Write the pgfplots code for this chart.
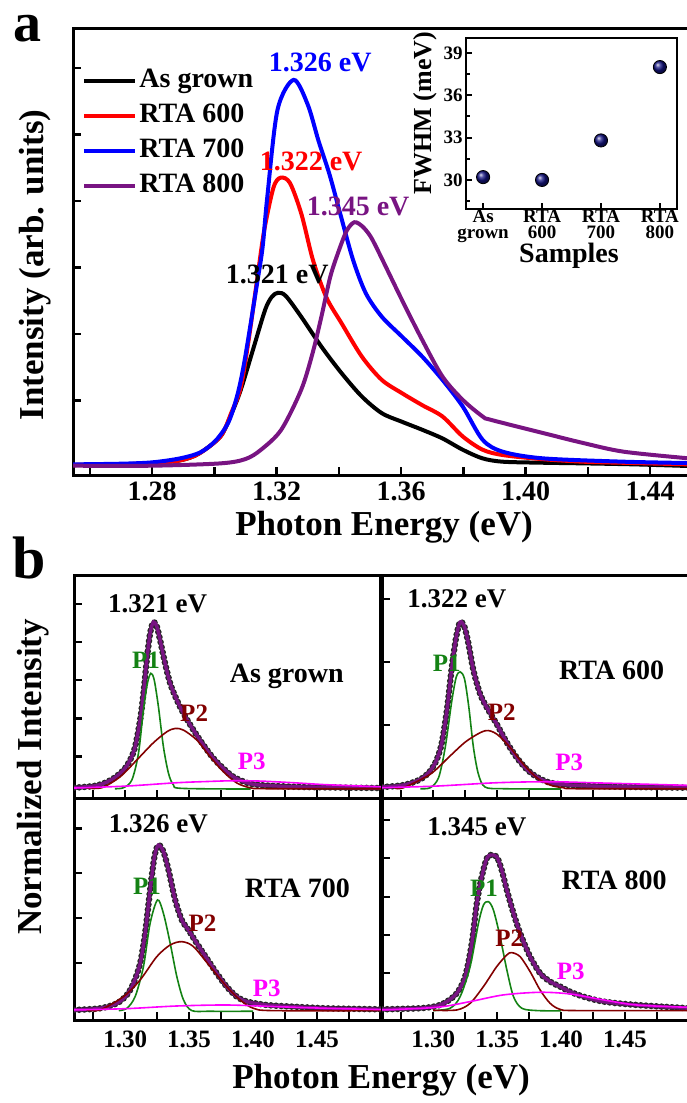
\documentclass[border=0pt]{standalone}
\usepackage{pgfplots}
\usepackage{pgfplotstable}
\pgfplotsset{compat=1.18}
\usepackage{fontspec}
\setmainfont{Liberation Serif}

\definecolor{cblue}{RGB}{0,0,255}
\definecolor{cred}{RGB}{255,0,0}
\definecolor{cpurple}{RGB}{120,20,130}
\definecolor{cgreen}{RGB}{20,130,20}
\definecolor{cdred}{RGB}{130,0,0}
\definecolor{cmag}{RGB}{255,0,255}
\definecolor{cnavy}{RGB}{20,20,130}
\newcommand{\fs}[1]{\fontsize{#1}{#1}\selectfont\bfseries}

% ---------- panel a ----------
\pgfplotstableread{
x y
1.2546 0.03
1.270 0.04
1.280 0.06
1.289 0.10
1.295 0.20
1.302 0.46
1.3055 0.80
1.3085 1.16
1.3124 1.76
1.3163 2.36
1.3185 2.56
1.3205 2.62
1.323 2.57
1.3279 2.26
1.3344 1.81
1.3409 1.41
1.3474 1.06
1.3538 0.81
1.3603 0.68
1.3668 0.56
1.3733 0.43
1.3798 0.26
1.3862 0.13
1.3927 0.08
1.405 0.065
1.4186 0.055
1.435 0.04
1.4525 0.015
}\asgrown
\pgfplotstableread{
x y
1.2546 0.03
1.270 0.04
1.280 0.06
1.289 0.10
1.295 0.20
1.302 0.46
1.3055 0.82
1.3085 1.20
1.311 1.90
1.3137 2.80
1.316 3.55
1.319 4.20
1.3213 4.35
1.3243 4.27
1.328 3.80
1.3317 3.11
1.336 2.55
1.3409 2.16
1.3474 1.66
1.3538 1.31
1.3603 1.11
1.3668 0.93
1.3733 0.76
1.3798 0.46
1.3862 0.26
1.3927 0.18
1.405 0.12
1.4186 0.08
1.435 0.06
1.4525 0.04
}\rtasix
\pgfplotstableread{
x y
1.2546 0.04
1.270 0.05
1.280 0.07
1.289 0.13
1.2955 0.22
1.3005 0.40
1.3046 0.68
1.3075 1.10
1.3098 1.62
1.3137 2.75
1.3155 3.30
1.317 4.05
1.3203 5.37
1.3255 5.82
1.330 5.45
1.3335 4.90
1.337 4.40
1.3405 3.80
1.3446 3.11
1.3487 2.61
1.3538 2.26
1.3603 1.96
1.3668 1.66
1.3733 1.31
1.3798 0.91
1.3862 0.41
1.3927 0.23
1.4057 0.13
1.4316 0.08
1.4525 0.06
}\rtaseven
\pgfplotstableread{
x y
1.2546 0.02
1.280 0.02
1.302 0.055
1.310 0.12
1.315 0.26
1.3215 0.56
1.3279 1.16
1.3315 1.70
1.3344 2.26
1.3372 2.85
1.3396 3.20
1.3425 3.55
1.345 3.68
1.3475 3.62
1.350 3.48
1.3525 3.26
1.3603 2.51
1.3668 1.91
1.3733 1.36
1.3798 1.01
1.3862 0.76
1.3888 0.71
1.4057 0.51
1.4186 0.36
1.4316 0.23
1.4525 0.13
}\rtaeight
\pgfplotstableread{
x y
0 30.2
1 30.0
2 32.8
3 38.0
}\fwhm

% ---------- panel b: As grown ----------
\pgfplotstableread{
x y
1.2600 0.002
1.2752 0.012
1.2831 0.028
1.2909 0.058
1.2987 0.108
1.3039 0.169
1.3078 0.249
1.3117 0.410
1.3143 0.570
1.3169 0.771
1.3195 0.932
1.3221 1.000
1.3247 0.974
1.3273 0.892
1.3312 0.751
1.3352 0.630
1.3404 0.530
1.3456 0.450
1.3534 0.349
1.3612 0.259
1.3690 0.179
1.3768 0.118
1.3846 0.068
1.3951 0.032
1.4055 0.018
1.4315 0.008
1.4576 0.004
1.5000 0.000
}\ulT
\pgfplotstableread{
x y
1.2920 -0.004
1.2987 0.002
1.3052 0.048
1.3104 0.209
1.3143 0.472
1.3174 0.631
1.3201 0.691
1.3227 0.651
1.3260 0.490
1.3299 0.249
1.3339 0.088
1.3378 0.018
1.3443 -0.002
1.3980 -0.006
}\ulA
\pgfplotstableread{
x y
1.2700 0.000
1.2818 0.002
1.2961 0.068
1.3091 0.169
1.3221 0.273
1.3326 0.339
1.3391 0.359
1.3456 0.349
1.3560 0.289
1.3664 0.189
1.3768 0.098
1.3872 0.031
1.3977 0.002
1.4107 -0.004
1.5000 -0.004
}\ulB
\pgfplotstableread{
x y
1.2600 0.000
1.3013 0.012
1.3404 0.032
1.3664 0.040
1.3846 0.044
1.4055 0.042
1.4315 0.032
1.4576 0.020
1.5000 0.008
}\ulC

% ---------- panel b: RTA 600 ----------
\pgfplotstableread{
x y
1.2600 0.006
1.2768 0.018
1.2899 0.052
1.2977 0.103
1.3029 0.173
1.3068 0.274
1.3107 0.466
1.3146 0.728
1.3180 0.909
1.3211 1.000
1.3245 0.970
1.3276 0.869
1.3315 0.708
1.3367 0.567
1.3419 0.486
1.3497 0.385
1.3576 0.274
1.3654 0.183
1.3732 0.113
1.3810 0.067
1.3914 0.032
1.4070 0.018
1.4331 0.010
1.4591 0.006
1.5000 0.002
}\urT
\pgfplotstableread{
x y
1.2900 -0.004
1.2977 0.002
1.3042 0.062
1.3094 0.244
1.3146 0.526
1.3180 0.667
1.3211 0.700
1.3245 0.657
1.3279 0.486
1.3315 0.244
1.3354 0.083
1.3406 0.006
1.3549 -0.004
1.4000 -0.006
}\urA
\pgfplotstableread{
x y
1.2700 0.000
1.2768 0.002
1.2977 0.083
1.3133 0.194
1.3263 0.284
1.3406 0.345
1.3497 0.325
1.3602 0.244
1.3706 0.143
1.3810 0.062
1.3914 0.018
1.4018 0.002
1.4122 -0.004
1.5000 -0.004
}\urB
\pgfplotstableread{
x y
1.2600 0.002
1.3029 0.012
1.3497 0.032
1.3914 0.038
1.4331 0.030
1.5000 0.016
}\urC

% ---------- panel b: RTA 700 ----------
\pgfplotstableread{
x y
1.2600 0.000
1.2804 0.010
1.2935 0.040
1.3013 0.091
1.3065 0.162
1.3117 0.283
1.3156 0.465
1.3195 0.727
1.3229 0.929
1.3260 1.000
1.3299 0.960
1.3339 0.848
1.3391 0.667
1.3443 0.545
1.3495 0.485
1.3560 0.404
1.3638 0.313
1.3716 0.222
1.3794 0.141
1.3872 0.081
1.3951 0.051
1.4107 0.030
1.4315 0.020
1.4576 0.010
1.5000 0.004
}\llT
\pgfplotstableread{
x y
1.2950 -0.004
1.3013 0.010
1.3078 0.081
1.3143 0.263
1.3195 0.525
1.3253 0.667
1.3299 0.586
1.3352 0.404
1.3404 0.202
1.3456 0.061
1.3521 -0.004
1.3664 -0.008
1.4000 -0.008
}\llA
\pgfplotstableread{
x y
1.2700 0.000
1.2804 0.000
1.2987 0.081
1.3117 0.182
1.3247 0.323
1.3352 0.394
1.3443 0.414
1.3534 0.384
1.3664 0.263
1.3794 0.141
1.3898 0.061
1.4003 0.010
1.4159 -0.004
1.5000 -0.004
}\llB
\pgfplotstableread{
x y
1.2600 0.000
1.3013 0.008
1.3404 0.024
1.3794 0.030
1.4185 0.020
1.4576 0.010
1.5000 0.002
}\llC

% ---------- panel b: RTA 800 ----------
\pgfplotstableread{
x y
1.2600 0.004
1.2898 0.011
1.3029 0.026
1.3107 0.054
1.3185 0.108
1.3250 0.215
1.3302 0.430
1.3341 0.688
1.3380 0.860
1.3419 0.978
1.3450 1.000
1.3497 0.989
1.3536 0.903
1.3576 0.774
1.3628 0.624
1.3680 0.495
1.3758 0.344
1.3836 0.237
1.3914 0.183
1.3992 0.151
1.4070 0.118
1.4174 0.086
1.4331 0.054
1.4591 0.032
1.5000 0.011
}\lrT
\pgfplotstableread{
x y
1.3000 -0.004
1.3133 0.011
1.3211 0.086
1.3289 0.280
1.3354 0.559
1.3393 0.677
1.3432 0.699
1.3471 0.645
1.3523 0.473
1.3576 0.258
1.3628 0.086
1.3693 0.011
1.3810 -0.004
1.4000 -0.006
}\lrA
\pgfplotstableread{
x y
1.3000 -0.002
1.3185 0.000
1.3289 0.043
1.3393 0.151
1.3497 0.280
1.3576 0.355
1.3614 0.370
1.3680 0.344
1.3758 0.247
1.3836 0.129
1.3914 0.043
1.3992 0.004
1.4122 -0.004
1.5000 -0.004
}\lrB
\pgfplotstableread{
x y
1.2600 0.000
1.3029 0.017
1.3289 0.054
1.3549 0.097
1.3836 0.114
1.4070 0.103
1.4331 0.065
1.4591 0.032
1.5000 0.017
}\lrC

\pgfplotsset{
  base/.style={scale only axis, anchor=north west, tick pos=left, tick align=inside,
    axis line style={line width=1.5pt}, tick style={line width=1.2pt, black},
    major tick length=4pt, minor tick length=4pt},
  pb/.style={base, width=153.5pt, xmin=1.26, xmax=1.50,
    xtick={1.30,1.35,1.40,1.45}, minor xtick={1.275,1.325,1.375,1.425,1.475},
    yticklabels={},
    xticklabel style={font=\fs{12.5}, yshift=-2pt,
      /pgf/number format/.cd, fixed, fixed zerofill, precision=2, assume math mode=true}},
  beads/.style={smooth, black!85, line width=3.3pt, line cap=round, dash pattern=on 0pt off 2.6pt},
  fit/.style={smooth, cpurple, line width=1.7pt},
  comp/.style={smooth, line width=0.8pt},
}

\begin{document}
\begin{tikzpicture}

% ===== panel a =====
\begin{axis}[base,
  at={(36.5pt,-14pt)}, width=308pt, height=223.5pt,
  xmin=1.2546, xmax=1.4525, ymin=-0.12, ymax=6.6,
  xtick={1.28,1.32,1.36,1.40,1.44}, minor xtick={1.26,1.30,1.34,1.38,1.42},
  ytick={1,2,3,4,5,6}, yticklabels={},
  xticklabel style={font=\fs{14},
    /pgf/number format/.cd, fixed, fixed zerofill, precision=2, assume math mode=true},
  legend style={at={(0.0146,0.918)}, anchor=north west, draw=none, fill=none,
    font=\fs{14}, inner sep=0pt, row sep=2pt,
    nodes={inner sep=1pt, text height=10pt, text depth=3.5pt}},
  legend cell align=left,
  legend image code/.code={\draw[#1, line width=2pt] (0pt,0pt) -- (25.5pt,0pt);},
]
\addplot[smooth, black, line width=2pt] table {\asgrown};
\addlegendentry{As grown}
\addplot[smooth, cred, line width=2pt] table {\rtasix};
\addlegendentry{RTA 600}
\addplot[smooth, cblue, line width=2pt] table {\rtaseven};
\addlegendentry{RTA 700}
\addplot[smooth, cpurple, line width=2pt] table {\rtaeight};
\addlegendentry{RTA 800}
\node[font=\fs{14}, text=cblue] at (axis cs:1.334,6.08) {1.326 eV};
\node[font=\fs{14}, text=cred] at (axis cs:1.3311,4.60) {1.322 eV};
\node[font=\fs{14}, text=cpurple] at (axis cs:1.3462,3.91) {1.345 eV};
\node[font=\fs{14}, text=black] at (axis cs:1.3202,2.89) {1.321 eV};
\end{axis}

% inset
\begin{axis}[base,
  at={(233pt,-19pt)}, width=105.5pt, height=85.5pt,
  axis line style={line width=1.2pt}, major tick length=3pt, minor tick length=2pt,
  tick style={line width=1pt, black},
  xmin=-0.29, xmax=3.29, ymin=27.94, ymax=40.06,
  xtick={0,1,2,3}, xticklabels={As\\grown, RTA\\600, RTA\\700, RTA\\800},
  ytick={30,33,36,39}, minor ytick={28.5,31.5,34.5,37.5},
  xticklabel style={font=\fontsize{9.5}{8}\selectfont\bfseries, align=center, inner sep=0.5pt},
  yticklabel style={font=\fs{9.5}, inner sep=1.5pt},
  /pgf/number format/assume math mode=true,
]
\addplot[only marks, mark=ball, mark size=3.3pt, mark options={ball color=cnavy}] table {\fwhm};
\end{axis}
\node[font=\fs{13}, rotate=90] at (212.5pt,-56.5pt) {FWHM (meV)};
\node[font=\fs{14}] at (284.5pt,-128pt) {Samples};

\node[font=\fs{17.5}] at (192pt,-263.5pt) {Photon Energy (eV)};
\node[font=\fs{17.5}, rotate=90] at (17.5pt,-132.5pt) {Intensity (arb. units)};
\node[font=\fs{28}, inner sep=0pt] at (13.5pt,-14.5pt) {a};

% ===== panel b =====
\begin{axis}[pb, at={(37pt,-287.5pt)}, height=111.5pt, ymin=-0.06, ymax=1.283,
  ytick={0.19,0.42,0.65,0.88,1.11}, xticklabels={}]
\addplot[beads] table {\ulT};
\addplot[fit] table {\ulT};
\addplot[comp, cgreen] table {\ulA};
\addplot[comp, cdred] table {\ulB};
\addplot[comp, cmag] table {\ulC};
\node[font=\fs{13.5}] at (axis cs:1.3254,1.11) {1.321 eV};
\node[font=\fs{14}] at (axis cs:1.4263,0.67) {As grown};
\node[font=\fs{12.5}, text=cgreen] at (axis cs:1.3162,0.77) {P1};
\node[font=\fs{12.5}, text=cdred] at (axis cs:1.3539,0.45) {P2};
\node[font=\fs{12.5}, text=cmag] at (axis cs:1.399,0.16) {P3};
\end{axis}

\begin{axis}[pb, at={(191pt,-287.5pt)}, height=111.5pt, ymin=-0.06, ymax=1.283,
  ytick={0.38,0.76,1.14}, xticklabels={}]
\addplot[beads] table {\urT};
\addplot[fit] table {\urT};
\addplot[comp, cgreen] table {\urA};
\addplot[comp, cdred] table {\urB};
\addplot[comp, cmag] table {\urC};
\node[font=\fs{13.5}] at (axis cs:1.3185,1.14) {1.322 eV};
\node[font=\fs{14}] at (axis cs:1.4396,0.71) {RTA 600};
\node[font=\fs{12.5}, text=cgreen] at (axis cs:1.3107,0.75) {P1};
\node[font=\fs{12.5}, text=cdred] at (axis cs:1.3537,0.455) {P2};
\node[font=\fs{12.5}, text=cmag] at (axis cs:1.4063,0.153) {P3};
\end{axis}

\begin{axis}[pb, at={(37pt,-399pt)}, height=111pt, ymin=-0.061, ymax=1.285,
  ytick={0.283,0.556,0.83,1.10}]
\addplot[beads] table {\llT};
\addplot[fit] table {\llT};
\addplot[comp, cgreen] table {\llA};
\addplot[comp, cdred] table {\llB};
\addplot[comp, cmag] table {\llC};
\node[font=\fs{13.5}] at (axis cs:1.326,1.13) {1.326 eV};
\node[font=\fs{14}] at (axis cs:1.4346,0.737) {RTA 700};
\node[font=\fs{12.5}, text=cgreen] at (axis cs:1.317,0.747) {P1};
\node[font=\fs{12.5}, text=cdred] at (axis cs:1.3604,0.525) {P2};
\node[font=\fs{12.5}, text=cmag] at (axis cs:1.4107,0.131) {P3};
\end{axis}

\begin{axis}[pb, at={(191pt,-399pt)}, height=111pt, ymin=-0.065, ymax=1.368,
  ytick={0.239,0.484,0.729,0.98,1.226}]
\addplot[beads] table {\lrT};
\addplot[fit] table {\lrT};
\addplot[comp, cgreen] table {\lrA};
\addplot[comp, cdred] table {\lrB};
\addplot[comp, cmag] table {\lrC};
\node[font=\fs{13.5}] at (axis cs:1.3341,1.18) {1.345 eV};
\node[font=\fs{14}] at (axis cs:1.4414,0.839) {RTA 800};
\node[font=\fs{12.5}, text=cgreen] at (axis cs:1.3398,0.785) {P1};
\node[font=\fs{12.5}, text=cdred] at (axis cs:1.3594,0.463) {P2};
\node[font=\fs{12.5}, text=cmag] at (axis cs:1.4076,0.247) {P3};
\end{axis}

\node[font=\fs{17.5}] at (190.5pt,-540pt) {Photon Energy (eV)};
\node[font=\fs{17.5}, rotate=90] at (16.5pt,-388.5pt) {Normalized Intensity};
\node[font=\fs{30}] at (14.5pt,-279pt) {b};

\pgfresetboundingbox
\useasboundingbox (0pt,0pt) rectangle (343pt,-551.5pt);
\end{tikzpicture}
\end{document}
